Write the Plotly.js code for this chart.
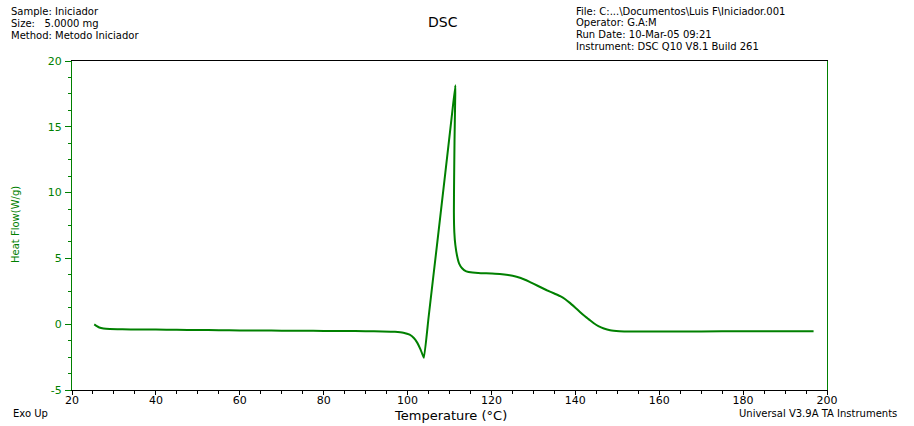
<!DOCTYPE html>
<html>
<head>
<meta charset="utf-8">
<script src="https://cdn.plot.ly/plotly-3.0.1.min.js"></script>
<style>html,body{margin:0;padding:0;background:#fff;}</style>
</head>
<body>
<div id="chart" style="width:914px;height:426px;"></div>
<script>
// Temperature (°C)
var temperature = [
  25.3, 25.8, 26.5, 27.5, 29, 32, 36, 40, 45, 50, 55, 60, 65, 70, 75, 80, 85, 90, 94, 97,
  99, 100.5, 101.5, 102.3, 103.0, 103.5, 103.9,
  105.0, 107.0, 109.0, 110.5, 111.4,
  111.35, 111.2, 111.1, 111.05, 111.15, 111.4, 111.8, 112.3, 113.0, 114.0, 115.5, 117.5,
  120, 122, 124, 126, 128, 129.2, 131, 133.2, 135, 136.4, 137.6, 138.7, 140, 141.1, 142.3,
  143.5, 144.5, 145.5, 146.8, 148.3, 150.5, 153, 160, 170, 180, 190, 196.8
];
// Heat Flow (W/g)
var heatFlow = [
  -0.02, -0.12, -0.25, -0.33, -0.37, -0.39, -0.40, -0.41, -0.43, -0.44, -0.46, -0.47, -0.48, -0.49, -0.50, -0.51, -0.52, -0.53, -0.55, -0.58,
  -0.65, -0.80, -1.05, -1.40, -1.85, -2.25, -2.55,
  0.49, 5.97, 11.5, 15.67, 18.15,
  17.0, 14.0, 11.0, 8.5, 7.0, 6.0, 5.2, 4.6, 4.25, 4.02, 3.92, 3.88,
  3.85, 3.82, 3.74, 3.6, 3.38, 3.2, 2.92, 2.58, 2.33, 2.13, 1.9, 1.62, 1.25, 0.93, 0.6,
  0.3, 0.05, -0.15, -0.33, -0.46, -0.53, -0.56, -0.56, -0.55, -0.54, -0.54, -0.53
];
var xTickValues = [20, 40, 60, 80, 100, 120, 140, 160, 180, 200];
var yTickValues = [-5, 0, 5, 10, 15, 20];
var headerLeft = ["Sample: Iniciador", "Size:\u00a0\u00a0\u00a05.0000 mg", "Method: Metodo Iniciador"];
var headerRight = ["File: C:...\\Documentos\\Luis F\\Iniciador.001", "Operator: G.A:M", "Run Date: 10-Mar-05 09:21", "Instrument: DSC Q10 V8.1 Build 261"];

var GREEN = '#008000';
var FONT = 'DejaVu Sans, Arial, sans-serif';
// pixel -> paper helpers (plot area: x 72..827, y 61..390)
function px(x) { return (x - 72) / 755; }
function py(y) { return (390 - y) / 329; }

var annotations = [];
var leftY = [11.8, 23.5, 35.2];
headerLeft.forEach(function (t, i) {
  annotations.push({text: t, xref: 'paper', yref: 'paper', x: px(10), y: py(leftY[i]),
    xanchor: 'left', yanchor: 'middle', showarrow: false, borderpad: 0,
    font: {family: FONT, size: 10, color: '#000'}});
});
var rightY = [11, 22.7, 34.4, 46.1];
headerRight.forEach(function (t, i) {
  annotations.push({text: t, xref: 'paper', yref: 'paper', x: px(575), y: py(rightY[i]),
    xanchor: 'left', yanchor: 'middle', showarrow: false, borderpad: 0,
    font: {family: FONT, size: 10, color: '#000'}});
});
annotations.push({text: 'DSC', xref: 'paper', yref: 'paper', x: px(443), y: py(22),
  xanchor: 'center', yanchor: 'middle', showarrow: false, borderpad: 0,
  font: {family: FONT, size: 14, color: '#000'}});
annotations.push({text: 'Exo Up', xref: 'paper', yref: 'paper', x: px(12), y: py(413),
  xanchor: 'left', yanchor: 'middle', showarrow: false, borderpad: 0,
  font: {family: FONT, size: 10, color: '#000'}});
annotations.push({text: 'Temperature (°C)', xref: 'paper', yref: 'paper', x: px(450), y: py(415),
  xanchor: 'center', yanchor: 'middle', showarrow: false, borderpad: 0,
  font: {family: FONT, size: 13, color: '#000'}});
annotations.push({text: 'Universal V3.9A TA Instruments', xref: 'paper', yref: 'paper', x: px(898), y: py(413),
  xanchor: 'right', yanchor: 'middle', showarrow: false, borderpad: 0,
  font: {family: FONT, size: 10, color: '#000'}});
annotations.push({text: 'Heat Flow(W/g)', xref: 'paper', yref: 'paper', x: px(15), y: py(225),
  xanchor: 'center', yanchor: 'middle', textangle: -90, showarrow: false, borderpad: 0,
  font: {family: FONT, size: 10, color: GREEN}});

var trace = {
  x: temperature, y: heatFlow, type: 'scatter', mode: 'lines',
  line: {color: GREEN, width: 2, shape: 'spline', smoothing: 0.4},
  hoverinfo: 'x+y'
};

var layout = {
  width: 914, height: 426,
  margin: {l: 72, r: 87, t: 61, b: 36, pad: 0},
  paper_bgcolor: '#fff', plot_bgcolor: '#fff',
  showlegend: false,
  xaxis: {
    range: [20, 200], tickvals: xTickValues, ticktext: xTickValues.map(String),
    showgrid: false, zeroline: false,
    showline: true, linecolor: '#000', linewidth: 1, mirror: true,
    ticks: 'outside', ticklen: 4, tickcolor: '#000', tickwidth: 1,
    ticklabelstandoff: -4,
    minor: {dtick: 5, tick0: 20, ticks: 'outside', ticklen: 3, tickcolor: '#000', showgrid: false},
    tickfont: {family: FONT, size: 11, color: '#000'}
  },
  yaxis: {
    range: [-5, 20], tickvals: yTickValues, ticktext: yTickValues.map(String),
    showgrid: false, zeroline: false,
    showline: true, linecolor: GREEN, linewidth: 1, mirror: true,
    ticks: 'outside', ticklen: 6, tickcolor: GREEN, tickwidth: 1,
    ticklabelstandoff: 1,
    minor: {dtick: 1.25, tick0: -5, ticks: 'outside', ticklen: 3, tickcolor: GREEN, showgrid: false},
    tickfont: {family: FONT, size: 11, color: GREEN}
  },
  annotations: annotations
};

Plotly.newPlot('chart', [trace], layout, {displayModeBar: false, staticPlot: true});
</script>
</body>
</html>
